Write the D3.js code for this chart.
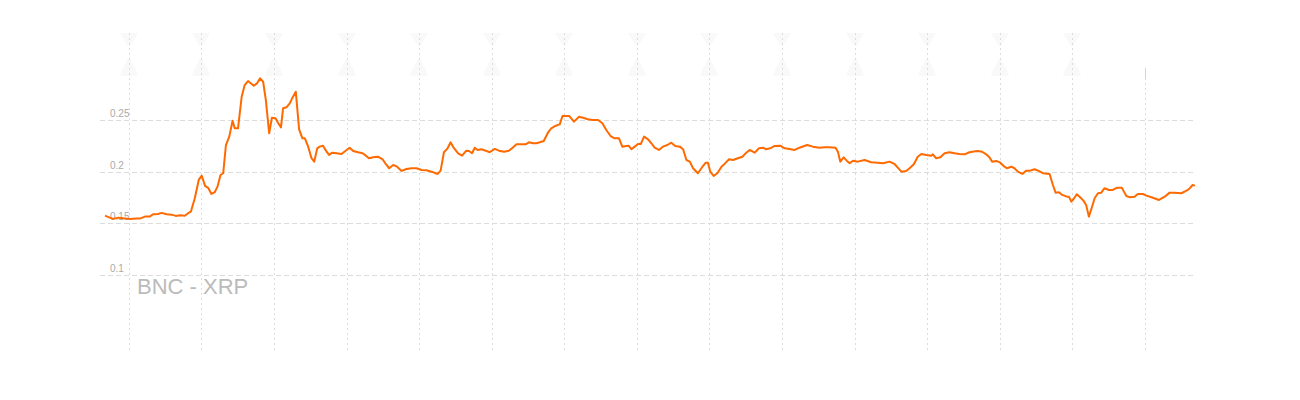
<!DOCTYPE html>
<html>
<head>
<meta charset="utf-8">
<script src="https://cdn.jsdelivr.net/npm/d3@7/dist/d3.min.js"></script>
<style>
    body { margin: 0; background: #fff; }
    svg { display: block; font-family: "Liberation Sans", Arial, sans-serif; }
</style>
</head>
<body>
<svg width="1300" height="400"></svg>
<script>
/** data: hours from the first grid day, and price BNC - XRP */
var hours = [-7.9, -6.3, -5.2, -3.5, -1.9, 0.3, 2.5, 3.6, 5.3, 6.9, 8.0, 9.7, 10.8, 12.5, 14.1, 15.5, 16.9, 18.5, 19.6, 20.5,
    21.8, 23.1, 24.1, 25.2, 26.3, 27.3, 28.4, 29.3, 30.3, 31.2, 32.1, 33.2, 34.3, 35.0, 36.1, 37.3, 38.3, 39.4, 41.3, 42.4,
    43.4, 44.4, 45.3, 46.4, 47.3, 48.5, 49.4, 50.3, 51.0, 52.1, 53.2, 54.1, 55.2, 56.3, 57.4, 58.2, 59.3, 60.4, 61.3, 62.3,
    63.1, 64.2, 65.4, 66.2, 67.3, 68.7, 70.3, 71.7, 73.0, 74.2, 75.8, 77.3, 78.4, 79.4, 80.8, 82.4, 83.9, 85.0, 86.1, 87.4,
    88.7, 90.2, 91.8, 93.5, 95.1, 96.8, 98.4, 100.1, 102.1, 103.1, 104.2, 105.4, 106.4, 107.4, 108.9, 110.2, 111.6, 112.5, 113.5, 114.4,
    115.3, 116.6, 118.0, 119.3, 121.0, 122.4, 124.1, 125.7, 126.9, 128.2, 129.8, 131.2, 132.3, 133.7, 134.8, 135.9, 137.2, 138.6, 139.7, 141.2,
    142.5, 143.4, 144.5, 145.6, 147.2, 148.9, 150.2, 151.8, 153.5, 155.2, 156.6, 157.9, 159.3, 160.7, 162.1, 163.2, 164.5, 165.3, 166.2, 167.3,
    168.4, 169.3, 170.4, 171.7, 172.8, 173.9, 175.3, 176.6, 178.1, 179.4, 180.7, 182.2, 183.3, 184.4, 185.5, 186.6, 188.2, 189.7, 190.8, 191.5,
    192.3, 193.4, 194.6, 196.0, 197.0, 198.5, 199.8, 201.4, 202.9, 204.2, 205.3, 207.0, 208.4, 209.7, 210.8, 212.1, 213.6, 215.4, 216.9, 218.5,
    220.2, 221.8, 224.3, 226.2, 228.4, 230.1, 231.7, 233.7, 234.5, 235.3, 236.4, 237.5, 238.4, 239.5, 241.1, 243.3, 245.5, 247.7, 249.4, 251.6,
    253.3, 254.3, 255.5, 257.1, 258.2, 259.6, 260.9, 262.1, 263.7, 265.4, 265.9, 267.0, 268.4, 269.8, 271.4, 273.1, 274.7, 276.4, 278.0, 280.0,
    280.8, 282.2, 283.8, 284.6, 285.5, 286.9, 288.2, 289.6, 290.4, 291.8, 292.9, 294.0, 295.5, 296.8, 298.1, 299.5, 300.9, 302.3, 304.5, 305.6,
    306.5, 307.6, 308.7, 310.2, 310.9, 311.7, 312.4, 313.5, 314.6, 315.7, 316.6, 317.5, 318.4, 319.4, 320.5, 321.6, 322.7, 324.1, 325.4, 326.9,
    328.4, 329.1, 329.9, 330.9, 332.6, 333.7, 335.4, 336.5, 338.2, 340.7, 342.6, 344.2, 345.9, 348.1, 349.8, 350.9, 351.8, 352.6];

var prices = [0.1574, 0.1555, 0.1543, 0.1555, 0.1549, 0.1543, 0.1546, 0.1546, 0.1565, 0.1565, 0.1588, 0.1591, 0.1601, 0.1588, 0.1584, 0.1572, 0.1578, 0.1574, 0.1598, 0.1613,
    0.1743, 0.1920, 0.1961, 0.1862, 0.1840, 0.1784, 0.1801, 0.1855, 0.1968, 0.1985, 0.2258, 0.2339, 0.2493, 0.2420, 0.2420, 0.2725, 0.2838, 0.2877, 0.2832, 0.2855,
    0.2903, 0.2870, 0.2693, 0.2371, 0.2522, 0.2516, 0.2468, 0.2429, 0.2613, 0.2623, 0.2661, 0.2716, 0.2774, 0.2410, 0.2323, 0.2323, 0.2242, 0.2130, 0.2097, 0.2226,
    0.2242, 0.2251, 0.2193, 0.2162, 0.2184, 0.2178, 0.2171, 0.2203, 0.2232, 0.2200, 0.2188, 0.2178, 0.2155, 0.2130, 0.2139, 0.2145, 0.2120, 0.2072, 0.2033, 0.2065,
    0.2048, 0.2007, 0.2026, 0.2033, 0.2033, 0.2016, 0.2014, 0.2000, 0.1978, 0.2010, 0.2188, 0.2226, 0.2284, 0.2232, 0.2178, 0.2155, 0.2203, 0.2200, 0.2178, 0.2232,
    0.2210, 0.2217, 0.2203, 0.2188, 0.2220, 0.2203, 0.2193, 0.2203, 0.2232, 0.2265, 0.2265, 0.2265, 0.2284, 0.2275, 0.2275, 0.2284, 0.2297, 0.2377, 0.2420, 0.2445,
    0.2458, 0.2539, 0.2539, 0.2539, 0.2484, 0.2532, 0.2522, 0.2507, 0.2500, 0.2500, 0.2468, 0.2403, 0.2345, 0.2323, 0.2323, 0.2242, 0.2249, 0.2251, 0.2217, 0.2242,
    0.2268, 0.2268, 0.2339, 0.2313, 0.2275, 0.2232, 0.2210, 0.2242, 0.2258, 0.2280, 0.2249, 0.2242, 0.2217, 0.2113, 0.2097, 0.2033, 0.1985, 0.2048, 0.2087, 0.2087,
    0.2000, 0.1958, 0.1985, 0.2048, 0.2075, 0.2120, 0.2113, 0.2130, 0.2145, 0.2184, 0.2210, 0.2184, 0.2226, 0.2232, 0.2217, 0.2226, 0.2249, 0.2251, 0.2226, 0.2220,
    0.2210, 0.2232, 0.2258, 0.2242, 0.2232, 0.2236, 0.2236, 0.2232, 0.2193, 0.2097, 0.2139, 0.2104, 0.2081, 0.2106, 0.2097, 0.2113, 0.2091, 0.2087, 0.2081, 0.2097,
    0.2072, 0.2039, 0.2000, 0.2007, 0.2033, 0.2072, 0.2145, 0.2171, 0.2162, 0.2155, 0.2168, 0.2130, 0.2139, 0.2178, 0.2188, 0.2178, 0.2171, 0.2168, 0.2188, 0.2197,
    0.2200, 0.2193, 0.2162, 0.2139, 0.2097, 0.2104, 0.2087, 0.2048, 0.2033, 0.2048, 0.2033, 0.2000, 0.1978, 0.2010, 0.2010, 0.2023, 0.2007, 0.1985, 0.1978, 0.1871,
    0.1797, 0.1801, 0.1775, 0.1758, 0.1758, 0.1710, 0.1733, 0.1782, 0.1753, 0.1720, 0.1678, 0.1565, 0.1646, 0.1743, 0.1791, 0.1797, 0.1840, 0.1823, 0.1823, 0.1845,
    0.1845, 0.1807, 0.1765, 0.1753, 0.1758, 0.1784, 0.1784, 0.1768, 0.1753, 0.1726, 0.1758, 0.1797, 0.1797, 0.1791, 0.1816, 0.1840, 0.1871, 0.1865];

var yTicks = [0.1, 0.15, 0.2, 0.25];
var yTickLabels = ['0.1', '0.15', '0.2', '0.25'];
var dayTicks = [0, 24, 48, 72, 96, 120, 144, 168, 192, 216, 240, 264, 288, 312, 336];
var title = 'BNC - XRP';


function LineComponent() {
    var lc = this;
    /** Constants */
    lc.left = 105;
    lc.right = 1195;
    lc.gridLeft = 100;
    lc.gridTop = 33;
    lc.gridBottom = 350;
    lc.lineColor = '#ff6a00';
    lc.gridColor = '#dcdcdc';

    /** Member Variables */
    lc.svg;
    lc.x;
    lc.y;

    lc.init = function() {
        lc.svg = d3.select('svg');
        lc.x = d3.scaleLinear().domain([hours[0], hours[hours.length - 1]]).range([lc.left, lc.right]);
        lc.y = d3.scaleLinear().domain([0.1, 0.25]).range([275, 120]);

        renderGrid();
        renderTitle();
        renderLine();
    }

    function renderGrid() {
        var g = lc.svg.append('g');

        //faint markers on top of day lines
        var markers = g.selectAll('.marker').data(dayTicks.slice(0, -1)).enter().append('g')
            .attr('class', 'marker')
            .attr('transform', d => 'translate(' + Math.round(lc.x(d)) + ',0)');
        markers.append('path')
            .attr('d', 'M -9,33 L 9,33 L 7,37 L 1,46 L -1,46 L -7,37 Z')
            .style('fill', '#f9f9f9');
        markers.append('path')
            .attr('d', 'M -1,59 L 1,59 L 7,70 L 9,76 L -9,76 L -7,70 Z')
            .style('fill', '#f9f9f9');

        g.selectAll('.vline').data(dayTicks).enter().append('line')
            .attr('class', 'vline')
            .attr('x1', d => Math.round(lc.x(d)) + 0.5)
            .attr('x2', d => Math.round(lc.x(d)) + 0.5)
            .attr('y1', (d, i) => i === dayTicks.length - 1 ? 68 : lc.gridTop)
            .attr('y2', lc.gridBottom)
            .attr('stroke', lc.gridColor)
            .attr('stroke-dasharray', '2,3');

        //short solid stub on the last line
        var last = Math.round(lc.x(dayTicks[dayTicks.length - 1])) + 0.5;
        g.append('line')
            .attr('x1', last).attr('x2', last)
            .attr('y1', 68).attr('y2', 78)
            .attr('stroke', '#d4d4d4');

        g.selectAll('.hline').data(yTicks).enter().append('line')
            .attr('class', 'hline')
            .attr('x1', lc.gridLeft)
            .attr('x2', lc.right)
            .attr('y1', d => Math.round(lc.y(d)) + 0.5)
            .attr('y2', d => Math.round(lc.y(d)) + 0.5)
            .attr('stroke', lc.gridColor)
            .attr('stroke-dasharray', '5,3');

        g.selectAll('.ylabel').data(yTicks).enter().append('text')
            .attr('class', 'ylabel')
            .attr('x', 110)
            .attr('y', d => Math.round(lc.y(d)) - 3)
            .style('font-size', '10px')
            .style('fill', '#aaa')
            .text((d, i) => yTickLabels[i]);
    }

    function renderTitle() {
        lc.svg.append('text')
            .attr('x', 137)
            .attr('y', 294)
            .style('font-size', '22px')
            .style('fill', '#bbb')
            .text(title);
    }

    function renderLine() {
        var line = d3.line()
            .x((d, i) => lc.x(hours[i]))
            .y(d => lc.y(d));

        lc.svg.append('path')
            .attr('d', line(prices))
            .style('fill', 'none')
            .attr('stroke', lc.lineColor)
            .attr('stroke-width', 2)
            .attr('stroke-linejoin', 'round');
    }
}

var chart = new LineComponent();
chart.init();
</script>
</body>
</html>
